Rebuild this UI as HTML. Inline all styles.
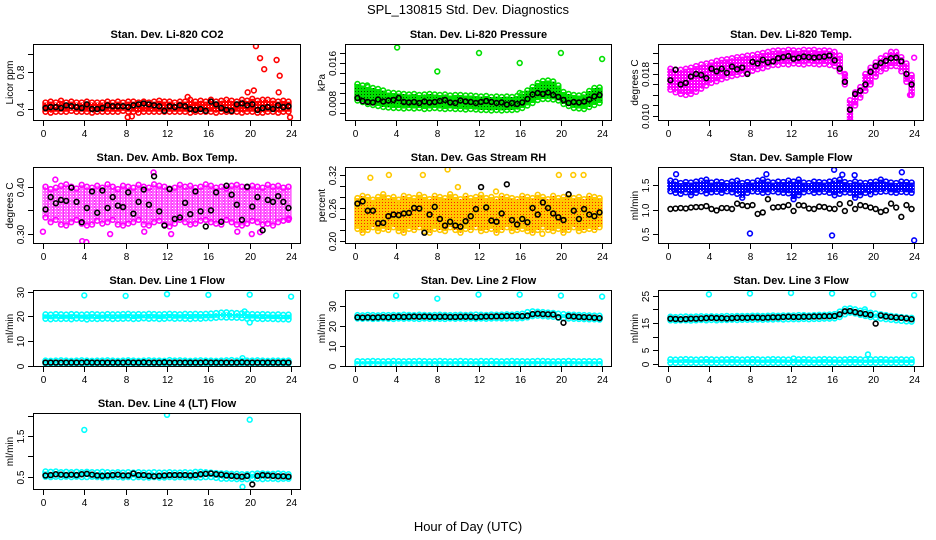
<!DOCTYPE html>
<html><head><meta charset="utf-8"><style>
html,body{margin:0;padding:0;background:#fff;}
svg{display:block;font-family:"Liberation Sans",Arial,sans-serif;}
</style></head><body>
<svg id="chart" width="936" height="540" viewBox="0 0 936 540" xmlns="http://www.w3.org/2000/svg">
<defs id="defs"></defs>
<text x="468" y="14" text-anchor="middle" font-size="13">SPL_130815  Std. Dev. Diagnostics</text>
<text x="468" y="531" text-anchor="middle" font-size="13">Hour of Day (UTC)</text>
</svg>
<script>
// ---- shared categories ----
const binHours = [0.25,0.75,1.25,1.75,2.25,2.75,3.25,3.75,4.25,4.75,5.25,5.75,6.25,6.75,7.25,7.75,8.25,8.75,9.25,9.75,10.25,10.75,11.25,11.75,12.25,12.75,13.25,13.75,14.25,14.75,15.25,15.75,16.25,16.75,17.25,17.75,18.25,18.75,19.25,19.75,20.25,20.75,21.25,21.75,22.25,22.75,23.25,23.75];
const xTicks = [0,4,8,12,16,20,24];

// ---- CO2 ----
const co2Lo = [0.37,0.36,0.37,0.37,0.37,0.38,0.37,0.37,0.37,0.36,0.37,0.37,0.37,0.37,0.37,0.38,0.37,0.37,0.36,0.37,0.37,0.37,0.37,0.37,0.37,0.37,0.37,0.37,0.36,0.37,0.37,0.37,0.37,0.36,0.37,0.37,0.37,0.37,0.36,0.37,0.37,0.36,0.36,0.37,0.37,0.36,0.37,0.37];
const co2Hi = [0.47,0.48,0.47,0.49,0.47,0.48,0.47,0.47,0.48,0.47,0.47,0.47,0.48,0.47,0.48,0.47,0.48,0.48,0.47,0.48,0.47,0.48,0.49,0.48,0.48,0.47,0.48,0.48,0.50,0.48,0.49,0.48,0.50,0.48,0.49,0.50,0.49,0.48,0.50,0.49,0.51,0.49,0.50,0.50,0.49,0.48,0.49,0.48];
const co2Black = [0.41,0.42,0.42,0.41,0.44,0.43,0.42,0.41,0.45,0.40,0.40,0.41,0.44,0.43,0.43,0.43,0.42,0.44,0.45,0.46,0.45,0.44,0.43,0.38,0.43,0.42,0.44,0.43,0.40,0.39,0.40,0.38,0.48,0.45,0.41,0.39,0.38,0.45,0.46,0.44,0.45,0.39,0.41,0.42,0.40,0.44,0.42,0.43];
const co2OutX = [20.6,21.0,21.4,22.6,22.9,20.4,22.8,23.9,8.2,8.6,14.0,19.8];
const co2OutY = [1.08,0.95,0.83,0.93,0.76,0.60,0.58,0.31,0.31,0.32,0.53,0.58];

// ---- Pressure ----
const presLo = [0.0085,0.0082,0.0078,0.0076,0.0074,0.0072,0.0071,0.0070,0.0070,0.0069,0.0070,0.0069,0.0070,0.0068,0.0069,0.0070,0.0069,0.0068,0.0069,0.0068,0.0068,0.0067,0.0068,0.0067,0.0066,0.0066,0.0065,0.0066,0.0065,0.0066,0.0066,0.0067,0.0070,0.0075,0.0080,0.0086,0.0088,0.0088,0.0087,0.0085,0.0078,0.0074,0.0070,0.0069,0.0068,0.0072,0.0076,0.0080];
const presHi = [0.0118,0.0115,0.0112,0.0110,0.0108,0.0105,0.0101,0.0100,0.0099,0.0098,0.0097,0.0098,0.0096,0.0097,0.0098,0.0097,0.0096,0.0097,0.0095,0.0096,0.0096,0.0095,0.0095,0.0094,0.0093,0.0094,0.0092,0.0093,0.0092,0.0093,0.0092,0.0094,0.0098,0.0105,0.0112,0.0120,0.0124,0.0125,0.0123,0.0115,0.0102,0.0098,0.0096,0.0095,0.0097,0.0104,0.0110,0.0111];
const presBlack = [0.0090,0.0084,0.0082,0.0081,0.0087,0.0083,0.0085,0.0086,0.0090,0.0082,0.0081,0.0082,0.0080,0.0083,0.0081,0.0082,0.0084,0.0086,0.0081,0.0080,0.0085,0.0083,0.0082,0.0080,0.0082,0.0084,0.0082,0.0080,0.0081,0.0077,0.0080,0.0078,0.0081,0.0088,0.0097,0.0100,0.0098,0.0101,0.0096,0.0092,0.0086,0.0080,0.0082,0.0081,0.0083,0.0087,0.0093,0.0096];
const presOutX = [1.2,4.1,8.0,12.05,16.0,16.0,20.0,24.0];
const presOutY = [0.0115,0.0191,0.0143,0.0180,0.0160,0.0100,0.0180,0.0168];

// ---- Li-820 Temp ----
const tempLo = [0.0150,0.0145,0.0142,0.0140,0.0142,0.0146,0.0152,0.0158,0.0163,0.0166,0.0170,0.0173,0.0176,0.0178,0.0180,0.0183,0.0186,0.0189,0.0191,0.0194,0.0197,0.0197,0.0199,0.0198,0.0200,0.0199,0.0198,0.0200,0.0199,0.0198,0.0199,0.0197,0.0195,0.0185,0.0160,0.0092,0.0120,0.0135,0.0148,0.0160,0.0175,0.0185,0.0190,0.0195,0.0195,0.0185,0.0165,0.0140];
const tempHi = [0.0190,0.0188,0.0188,0.0190,0.0192,0.0195,0.0198,0.0200,0.0202,0.0205,0.0207,0.0208,0.0210,0.0212,0.0213,0.0215,0.0216,0.0218,0.0220,0.0222,0.0224,0.0225,0.0224,0.0226,0.0225,0.0224,0.0226,0.0225,0.0226,0.0224,0.0225,0.0224,0.0222,0.0215,0.0180,0.0130,0.0145,0.0155,0.0180,0.0192,0.0202,0.0210,0.0215,0.0222,0.0222,0.0212,0.0200,0.0178];
const tempBlack = [0.0168,0.0188,0.0160,0.0163,0.0175,0.0180,0.0178,0.0172,0.0190,0.0185,0.0190,0.0182,0.0194,0.0189,0.0192,0.0180,0.0203,0.0200,0.0207,0.0202,0.0204,0.0210,0.0212,0.0214,0.0209,0.0211,0.0213,0.0212,0.0211,0.0212,0.0213,0.0215,0.0206,0.0190,0.0165,0.0112,0.0142,0.0148,0.0160,0.0184,0.0195,0.0201,0.0205,0.0210,0.0211,0.0204,0.0180,0.0160];
const tempOutX = [24.0,17.25,23.6];
const tempOutY = [0.0211,0.0178,0.0140];

// ---- Amb Box Temp ----
const ambLo = [0.335,0.325,0.330,0.320,0.318,0.325,0.330,0.322,0.318,0.320,0.328,0.322,0.325,0.330,0.320,0.318,0.322,0.325,0.330,0.320,0.318,0.325,0.328,0.320,0.316,0.322,0.330,0.325,0.320,0.322,0.328,0.330,0.325,0.322,0.320,0.330,0.325,0.320,0.318,0.322,0.328,0.325,0.320,0.322,0.318,0.325,0.328,0.330];
const ambHi = [0.400,0.395,0.398,0.402,0.405,0.400,0.396,0.404,0.400,0.398,0.402,0.398,0.405,0.400,0.395,0.402,0.400,0.398,0.404,0.400,0.398,0.405,0.402,0.400,0.396,0.398,0.404,0.400,0.402,0.398,0.400,0.405,0.402,0.398,0.400,0.396,0.402,0.404,0.400,0.398,0.402,0.400,0.398,0.404,0.400,0.402,0.398,0.400];
const ambBlack = [0.352,0.378,0.365,0.372,0.370,0.398,0.368,0.325,0.355,0.390,0.345,0.392,0.355,0.378,0.360,0.357,0.388,0.343,0.368,0.394,0.362,0.422,0.348,0.318,0.395,0.332,0.335,0.366,0.342,0.390,0.348,0.316,0.350,0.388,0.326,0.402,0.383,0.362,0.330,0.400,0.358,0.378,0.308,0.372,0.368,0.380,0.368,0.355];
const ambOutX = [0.0,3.8,4.2,6.5,9.8,12.4,18.8,20.2,21.0,23.8,1.2,10.7];
const ambOutY = [0.305,0.285,0.283,0.300,0.305,0.300,0.305,0.300,0.304,0.333,0.415,0.430];

// ---- Gas Stream RH ----
const rhLo = [0.222,0.215,0.220,0.225,0.218,0.222,0.220,0.225,0.218,0.215,0.222,0.220,0.225,0.218,0.215,0.222,0.220,0.218,0.225,0.220,0.215,0.222,0.220,0.225,0.218,0.220,0.222,0.215,0.220,0.225,0.218,0.220,0.222,0.218,0.215,0.220,0.225,0.220,0.218,0.222,0.215,0.220,0.225,0.218,0.220,0.222,0.220,0.225];
const rhHi = [0.278,0.282,0.280,0.275,0.280,0.285,0.278,0.280,0.275,0.282,0.280,0.278,0.284,0.280,0.276,0.282,0.280,0.278,0.285,0.280,0.276,0.282,0.278,0.280,0.284,0.278,0.280,0.276,0.282,0.280,0.278,0.276,0.282,0.280,0.278,0.284,0.280,0.276,0.282,0.278,0.280,0.284,0.278,0.280,0.276,0.282,0.280,0.278];
const rhBlack = [0.268,0.272,0.255,0.255,0.232,0.233,0.245,0.248,0.247,0.250,0.251,0.260,0.259,0.215,0.248,0.262,0.240,0.228,0.235,0.228,0.226,0.236,0.245,0.258,0.298,0.261,0.237,0.235,0.250,0.303,0.238,0.230,0.240,0.234,0.260,0.248,0.270,0.260,0.250,0.243,0.238,0.285,0.255,0.240,0.258,0.248,0.245,0.252];
const rhOutX = [1.5,3.3,6.6,9.0,10.0,13.7,18.2,21.2,22.2,19.8];
const rhOutY = [0.315,0.320,0.320,0.330,0.298,0.290,0.213,0.320,0.320,0.320];

// ---- Sample Flow ----
const sfLo = [1.38,1.35,1.33,1.36,1.30,1.35,1.38,1.34,1.36,1.37,1.35,1.38,1.36,1.33,1.25,1.35,1.38,1.37,1.35,1.36,1.38,1.36,1.35,1.34,1.22,1.30,1.36,1.38,1.35,1.36,1.37,1.35,1.30,1.33,1.36,1.35,1.25,1.30,1.35,1.32,1.36,1.37,1.38,1.36,1.35,1.37,1.36,1.35];
const sfHi = [1.60,1.58,1.55,1.57,1.56,1.58,1.60,1.62,1.56,1.58,1.57,1.55,1.58,1.60,1.55,1.57,1.56,1.60,1.62,1.58,1.56,1.58,1.57,1.60,1.58,1.62,1.56,1.55,1.58,1.57,1.56,1.58,1.60,1.62,1.57,1.55,1.58,1.56,1.55,1.57,1.58,1.62,1.58,1.56,1.55,1.58,1.57,1.56];
const sfBlack = [1.02,1.03,1.04,1.03,1.05,1.06,1.06,1.08,1.02,0.99,1.04,1.04,1.02,1.13,1.10,1.08,1.10,0.92,0.95,1.22,1.05,1.06,1.07,1.10,0.98,1.10,1.09,1.03,1.02,1.07,1.06,1.03,1.02,1.12,0.98,1.14,1.02,1.10,1.08,1.05,1.02,0.96,0.99,1.13,1.05,0.86,1.10,1.02];
const sfOutX = [8.0,16.0,24.0,16.2,9.6,0.8,17.0,18.2,22.8];
const sfOutY = [0.52,0.48,0.38,1.82,1.73,1.73,1.72,1.71,1.77];

// ---- Line 1 Flow ----
const l1Lo = [19.0,18.8,19.0,18.9,19.0,18.8,19.1,19.0,18.7,19.0,18.9,19.0,19.1,18.9,19.0,19.0,19.1,18.9,19.0,19.2,19.0,19.1,18.9,19.0,19.2,19.0,19.1,19.0,18.9,19.1,19.0,19.2,19.2,19.4,19.6,19.5,19.5,19.4,19.3,19.0,19.1,19.0,18.9,19.0,18.9,18.8,18.8,18.7];
const l1Hi = [20.8,20.7,20.9,20.8,20.7,20.9,20.8,20.7,20.8,20.9,20.8,20.7,20.9,20.8,20.8,20.9,21.0,20.8,20.9,20.8,21.0,20.9,20.8,20.9,21.0,20.9,20.8,21.0,20.9,21.0,20.9,21.0,21.1,21.3,21.5,21.6,21.4,21.3,21.2,21.0,20.9,20.8,20.9,20.8,20.7,20.8,20.6,20.7];
const l1LowLo = [0.8,0.8,0.8,0.8,0.8,0.8,0.8,0.8,0.8,0.8,0.8,0.8,0.8,0.8,0.8,0.8,0.8,0.8,0.8,0.8,0.8,0.8,0.8,0.8,0.8,0.8,0.8,0.8,0.8,0.8,0.8,0.8,0.8,0.8,0.8,0.8,0.8,0.8,0.8,0.8,0.8,0.8,0.8,0.8,0.8,0.8,0.8,0.8];
const l1LowHi = [2.0,1.9,2.0,2.1,2.0,1.9,2.0,2.1,2.0,1.9,2.0,2.0,2.1,2.0,1.9,2.0,2.1,2.0,1.9,2.0,2.1,2.0,2.0,1.9,2.2,2.0,2.1,2.0,1.9,2.0,2.1,2.0,2.0,1.9,2.0,2.1,2.2,2.0,1.9,2.0,2.0,2.1,2.0,1.9,2.0,2.0,1.9,2.0];
const l1Black = [1.2,1.2,1.2,1.2,1.2,1.2,1.2,1.2,1.3,1.2,1.2,1.2,1.2,1.2,1.2,1.2,1.3,1.2,1.2,1.3,1.2,1.2,1.2,1.3,1.2,1.2,1.2,1.2,1.2,1.2,1.2,1.3,1.2,1.2,1.2,1.2,1.2,1.2,1.3,1.2,1.2,1.2,1.2,1.2,1.2,1.2,1.2,1.2];
const l1OutX = [4.0,8.0,12.0,16.0,20.0,24.0,19.5,20.0,19.3];
const l1OutY = [28.5,28.3,29.0,28.7,28.8,28.0,22.0,17.5,3.0];

// ---- Line 2 Flow ----
const l2Lo = [23.6,23.5,23.6,23.4,23.5,23.6,23.5,23.4,23.6,23.5,23.6,23.5,23.4,23.6,23.5,23.6,23.5,23.4,23.6,23.5,23.6,23.5,23.6,23.5,23.6,23.5,23.6,23.7,23.6,23.6,23.7,23.6,23.8,24.2,24.8,25.0,24.8,24.6,24.5,24.0,23.8,23.6,23.5,23.4,23.3,23.2,23.2,23.1];
const l2Hi = [25.3,25.2,25.4,25.3,25.2,25.4,25.3,25.4,25.3,25.5,25.4,25.3,25.5,25.4,25.3,25.4,25.5,25.4,25.3,25.4,25.5,25.4,25.5,25.6,25.5,25.4,25.6,25.5,25.6,25.7,25.6,25.8,26.0,26.8,27.2,27.0,26.8,26.6,26.4,26.0,25.8,25.6,25.5,25.4,25.3,25.2,25.1,25.0];
const l2LowLo = [0.8,0.8,0.8,0.8,0.8,0.8,0.8,0.8,0.8,0.8,0.8,0.8,0.8,0.8,0.8,0.8,0.8,0.8,0.8,0.8,0.8,0.8,0.8,0.8,0.8,0.8,0.8,0.8,0.8,0.8,0.8,0.8,0.8,0.8,0.8,0.8,0.8,0.8,0.8,0.8,0.8,0.8,0.8,0.8,0.8,0.8,0.8,0.8];
const l2LowHi = [2.4,2.3,2.4,2.5,2.4,2.3,2.4,2.5,2.4,2.3,2.4,2.4,2.5,2.4,2.3,2.4,2.5,2.4,2.3,2.4,2.5,2.4,2.4,2.3,2.5,2.4,2.5,2.4,2.3,2.4,2.5,2.4,2.4,2.3,2.4,2.5,2.5,2.4,2.3,2.4,2.4,2.5,2.4,2.3,2.4,2.4,2.3,2.4];
const l2Black = [24.2,24.1,24.2,24.1,24.2,24.3,24.2,24.4,24.5,24.4,24.5,24.6,24.5,24.6,24.5,24.4,24.5,24.5,24.4,24.4,24.5,24.5,24.5,24.3,24.5,24.6,24.6,24.7,24.7,24.8,24.8,24.8,24.8,25.0,25.8,26.0,25.8,25.7,25.6,24.2,21.5,24.8,24.6,24.4,24.3,24.2,24.0,23.8];
const l2OutX = [4.0,8.0,12.0,16.0,20.0,24.0];
const l2OutY = [35.0,33.5,35.5,35.5,35.0,34.5];

// ---- Line 3 Flow ----
const l3Lo = [16.0,15.9,16.0,16.0,15.9,16.0,16.1,16.0,16.1,16.0,16.1,16.1,16.2,16.1,16.2,16.2,16.2,16.3,16.2,16.3,16.3,16.4,16.3,16.4,16.4,16.4,16.5,16.4,16.5,16.5,16.6,16.6,16.7,17.2,18.2,18.8,18.5,18.0,17.6,17.2,16.9,16.6,16.4,16.2,16.0,15.8,15.6,15.5];
const l3Hi = [17.3,17.2,17.3,17.4,17.3,17.4,17.5,17.4,17.5,17.4,17.5,17.6,17.5,17.6,17.6,17.6,17.7,17.7,17.6,17.7,17.8,17.7,17.8,17.8,17.8,17.9,17.9,17.8,17.9,18.0,18.0,18.1,18.3,19.2,20.2,20.4,20.0,19.5,19.2,18.8,18.5,18.2,17.9,17.6,17.4,17.2,17.0,16.9];
const l3LowLo = [0.4,0.4,0.4,0.4,0.4,0.4,0.4,0.4,0.4,0.4,0.4,0.4,0.4,0.4,0.4,0.4,0.4,0.4,0.4,0.4,0.4,0.4,0.4,0.4,0.4,0.4,0.4,0.4,0.4,0.4,0.4,0.4,0.4,0.4,0.4,0.4,0.4,0.4,0.4,0.4,0.4,0.4,0.4,0.4,0.4,0.4,0.4,0.4];
const l3LowHi = [1.7,1.6,1.7,1.8,1.7,1.6,1.7,1.8,1.7,1.6,1.7,1.7,1.8,1.7,1.6,1.7,1.8,1.7,1.6,1.7,1.8,1.7,1.7,1.6,2.0,1.7,1.8,1.7,1.6,1.7,1.8,1.7,1.7,1.6,1.7,1.8,1.8,1.7,1.6,1.7,1.7,1.8,1.7,1.6,1.7,1.7,1.6,1.7];
const l3Black = [16.6,16.5,16.4,16.5,16.6,16.6,16.7,16.8,16.9,16.8,16.8,16.7,16.8,16.9,16.9,16.9,17.0,17.0,16.9,17.0,17.1,17.1,17.2,17.3,17.2,17.2,17.3,17.3,17.4,17.4,17.5,17.5,17.6,18.2,19.3,19.4,19.0,18.6,18.3,18.0,14.8,17.8,17.4,17.2,17.0,16.9,16.7,16.4];
const l3OutX = [4.0,8.0,12.0,16.0,20.0,24.0,19.5,19.2];
const l3OutY = [25.5,25.8,26.0,25.8,25.5,25.2,3.5,20.0];

// ---- Line 4 (LT) Flow ----
const l4Lo = [0.50,0.49,0.50,0.49,0.50,0.49,0.50,0.49,0.49,0.50,0.49,0.48,0.49,0.50,0.49,0.48,0.49,0.48,0.49,0.48,0.48,0.49,0.48,0.48,0.49,0.48,0.49,0.48,0.49,0.48,0.48,0.49,0.49,0.47,0.45,0.45,0.45,0.44,0.44,0.44,0.45,0.45,0.44,0.45,0.45,0.44,0.45,0.45];
const l4Hi = [0.63,0.62,0.63,0.61,0.62,0.61,0.62,0.61,0.62,0.61,0.61,0.62,0.61,0.60,0.61,0.60,0.61,0.60,0.61,0.60,0.60,0.61,0.60,0.60,0.61,0.60,0.60,0.61,0.60,0.62,0.62,0.61,0.60,0.59,0.58,0.58,0.57,0.57,0.56,0.56,0.57,0.58,0.58,0.57,0.57,0.58,0.57,0.56];
const l4Black = [0.53,0.54,0.56,0.55,0.54,0.55,0.54,0.56,0.57,0.55,0.53,0.52,0.53,0.54,0.55,0.53,0.53,0.58,0.54,0.54,0.52,0.51,0.52,0.53,0.54,0.54,0.54,0.54,0.53,0.54,0.56,0.57,0.58,0.56,0.55,0.53,0.52,0.51,0.50,0.52,0.31,0.52,0.54,0.53,0.52,0.51,0.51,0.50];
const l4OutX = [4.0,12.0,20.0,19.3];
const l4OutY = [1.65,2.02,1.90,0.25];

const NS = 'http://www.w3.org/2000/svg';
const svg = document.getElementById('chart');
const defs = document.getElementById('defs');
function mk(tag, attrs, parent){
  const e = document.createElementNS(NS, tag);
  for (const k in attrs) e.setAttribute(k, attrs[k]);
  (parent||svg).appendChild(e);
  return e;
}
const COLS = [[33,301],[345,612],[658,924]];
const ROWS = [44,167,290,413];
const PH = 77;
const XMIN = -0.96, XMAX = 24.96;

const panels = [
 {key:'co2', title:'Stan. Dev. Li-820 CO2', ylab:'Licor ppm', col:0,row:0, ylim:[0.270,1.103], ticks:[0.4,0.6,0.8,1.0], labels:['0.4','','0.8',''], color:'#ff0000', dot:'#ffffff', bands:[[co2Lo,co2Hi]], black:co2Black, ox:co2OutX, oy:co2OutY},
 {key:'pressure', title:'Stan. Dev. Li-820 Pressure', ylab:'kPa', col:1,row:0, ylim:[0.0044,0.0198], ticks:[0.006,0.008,0.010,0.012,0.014,0.016,0.018], labels:['','0.008','','','','0.016',''], color:'#00e000', dot:'#004000', bands:[[presLo,presHi]], black:presBlack, ox:presOutX, oy:presOutY},
 {key:'li820-temp', title:'Stan. Dev. Li-820 Temp.', ylab:'degrees C', col:2,row:0, ylim:[0.00905,0.0237], ticks:[0.010,0.012,0.014,0.016,0.018,0.020,0.022], labels:['0.010','','','','0.018','',''], color:'#ff00ff', dot:'#ffffff', bands:[[tempLo,tempHi]], black:tempBlack, ox:tempOutX, oy:tempOutY},
 {key:'amb-temp', title:'Stan. Dev. Amb. Box Temp.', ylab:'degrees C', col:0,row:1, ylim:[0.279,0.4416], ticks:[0.30,0.35,0.40], labels:['0.30','','0.40'], color:'#ff00ff', dot:'#ffffff', bandOpacity:0.6, bands:[[ambLo,ambHi]], black:ambBlack, ox:ambOutX, oy:ambOutY},
 {key:'rh', title:'Stan. Dev. Gas Stream RH', ylab:'percent', col:1,row:1, ylim:[0.1945,0.3345], ticks:[0.20,0.22,0.24,0.26,0.28,0.30,0.32], labels:['0.20','','','0.26','','','0.32'], color:'#ffc800', dot:'#ff2000', bands:[[rhLo,rhHi]], black:rhBlack, ox:rhOutX, oy:rhOutY},
 {key:'sample-flow', title:'Stan. Dev. Sample Flow', ylab:'ml/min', col:2,row:1, ylim:[0.306,1.877], ticks:[0.5,1.0,1.5], labels:['0.5','1.0','1.5'], color:'#0000ff', dot:'#ffffff', bands:[[sfLo,sfHi]], black:sfBlack, ox:sfOutX, oy:sfOutY},
 {key:'line1', title:'Stan. Dev. Line 1 Flow', ylab:'ml/min', col:0,row:2, ylim:[-0.6,30.7], ticks:[0,10,20,30], labels:['0','10','20','30'], color:'#00ffff', dot:'#ffffff', bands:[[l1Lo,l1Hi],[l1LowLo,l1LowHi]], black:l1Black, ox:l1OutX, oy:l1OutY},
 {key:'line2', title:'Stan. Dev. Line 2 Flow', ylab:'ml/min', col:1,row:2, ylim:[-0.5,37.8], ticks:[0,10,20,30], labels:['0','10','20','30'], color:'#00ffff', dot:'#ffffff', bands:[[l2Lo,l2Hi],[l2LowLo,l2LowHi]], black:l2Black, ox:l2OutX, oy:l2OutY},
 {key:'line3', title:'Stan. Dev. Line 3 Flow', ylab:'ml/min', col:2,row:2, ylim:[-1.1,27.1], ticks:[0,5,10,15,20,25], labels:['0','5','','15','','25'], color:'#00ffff', dot:'#ffffff', bands:[[l3Lo,l3Hi],[l3LowLo,l3LowHi]], black:l3Black, ox:l3OutX, oy:l3OutY},
 {key:'line4', title:'Stan. Dev. Line 4 (LT) Flow', ylab:'ml/min', col:0,row:3, ylim:[0.173,2.065], ticks:[0.5,1.0,1.5,2.0], labels:['0.5','','1.5',''], color:'#00ffff', dot:'#ffffff', bands:[[l4Lo,l4Hi]], black:l4Black, ox:l4OutX, oy:l4OutY}
];

panels.forEach(p => {
  const x0 = COLS[p.col][0], x1 = COLS[p.col][1];
  const y0 = ROWS[p.row], y1 = y0 + PH;
  const sx = v => x0 + (v - XMIN) / (XMAX - XMIN) * (x1 - x0);
  const sy = v => y1 - (v - p.ylim[0]) / (p.ylim[1] - p.ylim[0]) * (y1 - y0);

  const patId = 'pat-' + p.key;
  const pat = mk('pattern', {id: patId, width: 3, height: 3, patternUnits: 'userSpaceOnUse'}, defs);
  mk('rect', {x: 0, y: 0, width: 3, height: 3, fill: p.color}, pat);
  mk('rect', {x: 1, y: 1, width: 1, height: 1, fill: p.dot}, pat);

  const g = mk('g', {});
  
  
  const clipId = 'clip-' + p.key;
  const cp = mk('clipPath', {id: clipId}, g);
  mk('rect', {x: x0, y: y0, width: x1 - x0, height: PH}, cp);

  const t = mk('text', {x: (x0 + x1) / 2, y: y0 - 6, 'text-anchor': 'middle', 'font-size': 11, 'font-weight': 'bold'}, g);
  
  
  t.textContent = p.title;

  const marks = mk('g', {'clip-path': 'url(#' + clipId + ')'}, g);
  
  
  const bw = sx(0.5) - sx(0);
  const op = p.bandOpacity || 1;
  p.bands.forEach(b => {
    const lo = b[0], hi = b[1];
    binHours.forEach((h, i) => {
      const r = mk('rect', {x: sx(h) - bw / 2 - 0.6, y: sy(hi[i]), width: bw + 1.2, height: Math.max(1, sy(lo[i]) - sy(hi[i])), fill: 'url(#' + patId + ')', opacity: op}, marks);
      
      
      [lo[i], hi[i]].forEach(v => {
        const c = mk('circle', {cx: sx(h), cy: sy(v), r: 2.4, fill: 'none', stroke: p.color, 'stroke-width': 1.6}, marks);
        
        
      });
    });
  });
  p.ox.forEach((h, i) => {
    const c = mk('circle', {cx: sx(h), cy: sy(p.oy[i]), r: 2.4, fill: 'none', stroke: p.color, 'stroke-width': 1.6}, marks);
    
    
  });
  p.black.forEach((v, i) => {
    const c = mk('circle', {cx: sx(binHours[i]), cy: sy(v), r: 2.4, fill: 'none', stroke: '#000', 'stroke-width': 1.6}, marks);
    
    
  });

  const box = mk('rect', {x: x0 + 0.5, y: y0 + 0.5, width: x1 - x0 - 1, height: PH - 1, fill: 'none', stroke: '#000', 'stroke-width': 1}, g);
  
  

  const xa = mk('g', {}, g);
  
  
  xTicks.forEach(v => {
    const X = Math.round(sx(v)) + 0.5;
    mk('line', {x1: X, x2: X, y1: y1, y2: y1 + 5, stroke: '#000'}, xa);
    const tl = mk('text', {x: X, y: y1 + 16, 'text-anchor': 'middle', 'font-size': 10}, xa);
    
    
    tl.textContent = v;
  });
  const ya = mk('g', {}, g);
  
  
  p.ticks.forEach((v, i) => {
    const Y = Math.round(sy(v)) + 0.5;
    mk('line', {x1: x0 - 5, x2: x0, y1: Y, y2: Y, stroke: '#000'}, ya);
    if (p.labels[i]) {
      const tl = mk('text', {x: 0, y: 0, 'text-anchor': 'middle', 'font-size': 10, transform: 'translate(' + (x0 - 9) + ',' + Y + ') rotate(-90)'}, ya);
      
      
      tl.textContent = p.labels[i];
    }
  });
  const yl = mk('text', {x: 0, y: 0, 'text-anchor': 'middle', 'font-size': 10, transform: 'translate(' + (x0 - 20) + ',' + ((y0 + y1) / 2) + ') rotate(-90)'}, g);
  
  
  yl.textContent = p.ylab;
});
</script>
</body></html>
